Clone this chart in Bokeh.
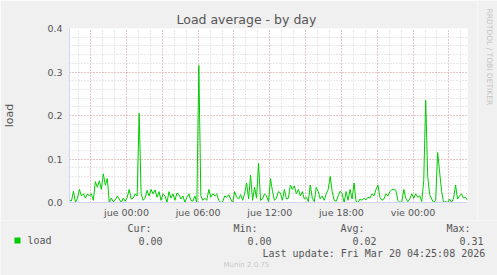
from bokeh.plotting import figure
from bokeh.layouts import column, row
from bokeh.models import Range1d, FixedTicker
from bokeh.core.properties import value
from bokeh.embed import file_html
from bokeh.resources import INLINE

# ---- data (load average, 10-minute samples, hours relative to Thu 00:00) ----
start_hour = -4.775
step_hours = 10 / 60
load = [
    0.005, 0.004, 0.026, 0.0, 0.01, 0.03, 0.015, 0.02, 0.01, 0.02, 0.015, 0.02,
    0.005, 0.048, 0.035, 0.05, 0.03, 0.066, 0.04, 0.055, 0.0, 0.01, 0.002, 0.006,
    0.015, 0.008, 0.0, 0.01, 0.003, 0.012, 0.03, 0.008, 0.01, 0.02, 0.015, 0.205,
    0.02, 0.005, 0.01, 0.028, 0.015, 0.03, 0.02, 0.029, 0.012, 0.025, 0.005, 0.02,
    0.015, 0.0, 0.025, 0.01, 0.02, 0.005, 0.022, 0.018, 0.008, 0.015, 0.0, 0.012,
    0.02, 0.005, 0.003, 0.015, 0.0, 0.315, 0.015, 0.005, 0.01, 0.005, 0.03, 0.012,
    0.02, 0.015, 0.02, 0.005, 0.0, 0.002, 0.015, 0.012, 0.018, 0.008, 0.0, 0.025,
    0.012, 0.008, 0.018, 0.005, 0.02, 0.045, 0.008, 0.063, 0.005, 0.035, 0.01, 0.09,
    0.005, 0.008, 0.02, 0.015, 0.002, 0.055, 0.026, 0.005, 0.01, 0.025, 0.022, 0.005,
    0.03, 0.008, 0.01, 0.04, 0.03, 0.038, 0.02, 0.03, 0.015, 0.025, 0.008, 0.012,
    0.002, 0.04, 0.01, 0.002, 0.035, 0.025, 0.008, 0.015, 0.005, 0.02, 0.03, 0.06,
    0.025, 0.005, 0.003, 0.015, 0.026, 0.02, 0.0, 0.025, 0.005, 0.03, 0.008, 0.045,
    0.002, 0.0, 0.008, 0.005, 0.01, 0.006, 0.012, 0.01, 0.02, 0.015, 0.03, 0.04,
    0.012, 0.005, 0.008, 0.02, 0.015, 0.025, 0.03, 0.03, 0.028, 0.005, 0.0, 0.002,
    0.03, 0.01, 0.002, 0.008, 0.02, 0.01, 0.02, 0.012, 0.015, 0.002, 0.05, 0.235,
    0.06, 0.018, 0.008, 0.0, 0.005, 0.115, 0.07, 0.025, 0.0, 0.002, 0.0, 0.008,
    0.0, 0.01, 0.04, 0.008, 0.015, 0.02, 0.01, 0.012, 0.005,
]
hours = [start_hour + i * step_hours for i in range(len(load))]

x_tick_hours = [0, 6, 12, 18, 24]
x_tick_labels = ["jue 00:00", "jue 06:00", "jue 12:00", "jue 18:00", "vie 00:00"]
y_ticks = [0.0, 0.1, 0.2, 0.3, 0.4]
y_tick_labels = ["0.0", "0.1", "0.2", "0.3", "0.4"]

title_text = "Load average - by day"
series_name = "load"
stat_headers = ["Cur:", "Min:", "Avg:", "Max:"]
stat_values = ["0.00", "0.00", "0.02", "0.31"]
last_update = "Last update: Fri Mar 20 04:25:08 2026"
footer = "Munin 2.0.75"
side_text = "RRDTOOL / TOBI OETIKER"

# ---- styling constants ----
BG = "#F0F0F0"
TXT = "#555555"
GREEN = "#00CC00"
MGRID = "#E8A4A4"
GRID = "#D0D0D0"
AXIS = "#CFD6F8"
MONO = "DejaVu Sans Mono"
TOP_H = 220
SIDE_W = 20
W = 497
H = 275

x0 = start_hour
x1 = start_hour + 400 / 12.0

# ---- main chart ----
p = figure(width=W - SIDE_W, height=TOP_H, output_backend="svg", toolbar_location=None,
           x_range=Range1d(x0, x1), y_range=Range1d(0, 0.4),
           min_border_left=67, min_border_right=10, min_border_top=28,
           min_border_bottom=17)
p.frame_align = False
p.background_fill_color = "white"
p.border_fill_color = BG
p.outline_line_color = None

p.title.text = title_text
p.title.text_font = "DejaVu Sans"
p.title.text_font_size = "12.5px"
p.title.text_font_style = "normal"
p.title.text_color = TXT
p.title.align = "left"
p.title.offset = 107
p.title.standoff = 3

p.xaxis.ticker = FixedTicker(ticks=x_tick_hours)
p.xaxis.major_label_overrides = {h: l for h, l in zip(x_tick_hours, x_tick_labels)}
p.yaxis.ticker = FixedTicker(ticks=y_ticks)
p.yaxis.major_label_overrides = {v: l for v, l in zip(y_ticks, y_tick_labels)}
for ax in (p.xaxis[0], p.yaxis[0]):
    ax.axis_line_color = AXIS
    ax.axis_line_width = 1
    ax.major_tick_line_color = None
    ax.minor_tick_line_color = None
    ax.major_tick_out = 0
    ax.major_tick_in = 0
    ax.minor_tick_out = 0
    ax.minor_tick_in = 0
    ax.major_label_text_font = "DejaVu Sans"
    ax.major_label_text_font_size = "9.5px"
    ax.major_label_text_color = TXT
p.xaxis.major_label_standoff = 4
p.yaxis.major_label_standoff = 7
p.yaxis.axis_label = "load"
p.yaxis.axis_label_text_font = "DejaVu Sans"
p.yaxis.axis_label_text_font_size = "11px"
p.yaxis.axis_label_text_font_style = "normal"
p.yaxis.axis_label_text_color = TXT
p.yaxis.axis_label_standoff = 28

p.xgrid.ticker = FixedTicker(ticks=[h for h in range(-3, 29, 3)],
                             minor_ticks=[h for h in range(-4, 29)])
p.ygrid.ticker = FixedTicker(ticks=y_ticks,
                             minor_ticks=[round(0.02 * k, 2) for k in range(21)])
for g in (p.xgrid[0], p.ygrid[0]):
    g.grid_line_color = MGRID
    g.grid_line_dash = "1 2"
    g.grid_line_width = 1
    g.minor_grid_line_color = GRID
    g.minor_grid_line_dash = "1 2"
    g.minor_grid_line_width = 1

p.line(hours, load, line_color=GREEN, line_width=1)

# ---- right strip with the vertical credit text ----
s = figure(width=SIDE_W, height=TOP_H, output_backend="svg", toolbar_location=None,
           title=None, x_range=Range1d(0, SIDE_W), y_range=Range1d(0, TOP_H),
           x_axis_location=None, y_axis_location=None, min_border=0)
s.frame_align = False
s.background_fill_color = BG
s.border_fill_color = BG
s.outline_line_color = None
s.grid.visible = False
s.text(x=[12], y=[TOP_H - 8], text=[side_text], angle=-1.5708,
       text_font=value("DejaVu Sans"), text_font_size="7.5px",
       text_color="#C4C4C4", text_align="left", text_baseline="middle")

# ---- legend / footer strip (page coordinates, y measured from the top) ----
lg = figure(width=W, height=H - TOP_H, output_backend="svg", toolbar_location=None,
            title=None, x_range=Range1d(0, W), y_range=Range1d(H, TOP_H),
            x_axis_location=None, y_axis_location=None, min_border=0)
lg.frame_align = False
lg.background_fill_color = BG
lg.border_fill_color = BG
lg.outline_line_color = None
lg.grid.visible = False

lg.rect(x=[17], y=[240], width=6, height=6, fill_color=GREEN, line_color=None)
head_x = [127, 233, 340, 446]
val_x = [138, 247, 352, 459]
lg.text(x=[27], y=[240], text=[series_name], text_font=value(MONO),
        text_font_size="10px", text_color=TXT, text_baseline="middle")
lg.text(x=head_x, y=[227.5] * 4, text=stat_headers, text_font=value(MONO),
        text_font_size="10px", text_color=TXT, text_baseline="middle")
lg.text(x=val_x, y=[240] * 4, text=stat_values, text_font=value(MONO),
        text_font_size="10px", text_color=TXT, text_baseline="middle")
lg.text(x=[262], y=[252.5], text=[last_update], text_font=value(MONO),
        text_font_size="10px", text_color=TXT, text_baseline="middle")
lg.text(x=[223], y=[264], text=[footer], text_font=value("DejaVu Sans"),
        text_font_size="7px", text_color="#C8C8C8", text_baseline="middle")

layout = column(row(p, s, spacing=0), lg, spacing=0)
open("out.html", "w").write(file_html(layout, INLINE))
